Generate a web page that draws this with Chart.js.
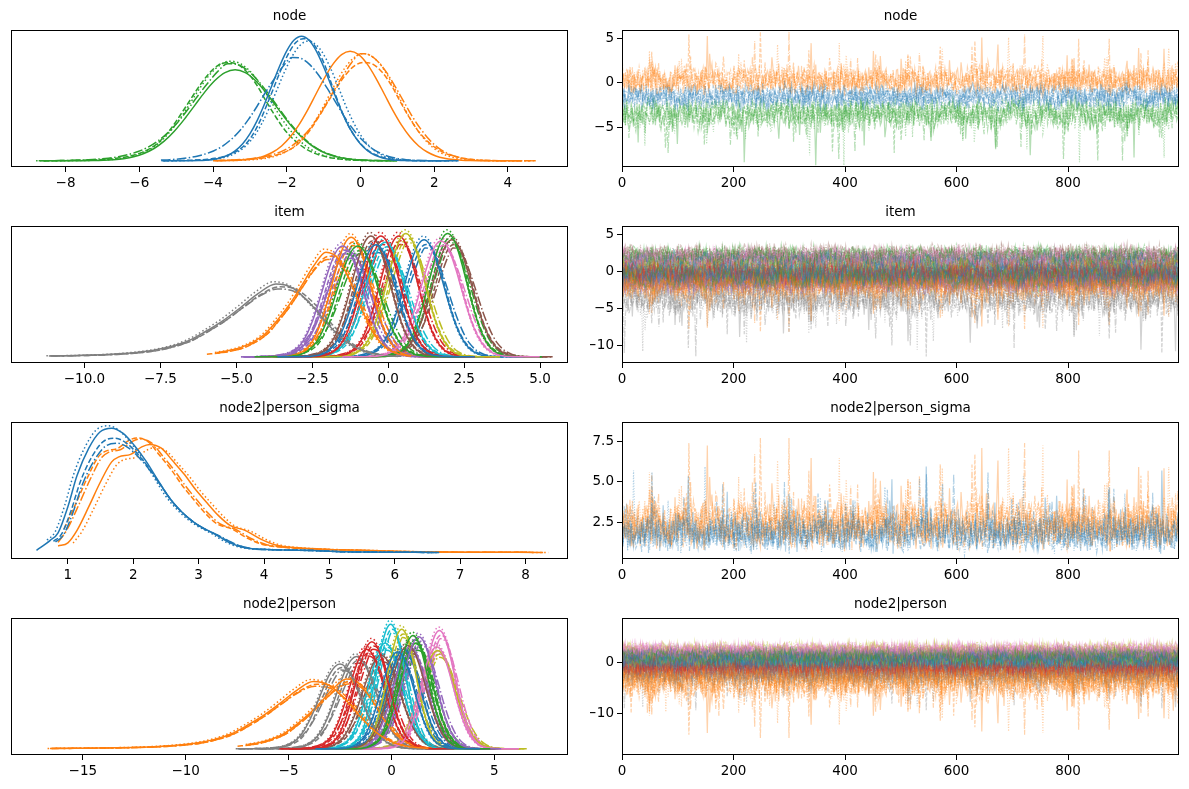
<!DOCTYPE html>
<html>
<head>
<meta charset="utf-8">
<script src="https://cdn.jsdelivr.net/npm/chart.js@4.4.1/dist/chart.umd.min.js"></script>
<style>
  html, body { margin: 0; padding: 0; background: #fff; }
  #fig { position: relative; width: 1189px; height: 789px; overflow: hidden; }
  canvas { position: absolute; }
</style>
</head>
<body>
<div id="fig">
  <canvas id="kdeNode" width="590" height="196" style="left:0;top:0"></canvas>
  <canvas id="trNode" width="599" height="196" style="left:590px;top:0"></canvas>
  <canvas id="kdeItem" width="590" height="196" style="left:0;top:196px"></canvas>
  <canvas id="trItem" width="599" height="196" style="left:590px;top:196px"></canvas>
  <canvas id="kdeSigma" width="590" height="196" style="left:0;top:392px"></canvas>
  <canvas id="trSigma" width="599" height="196" style="left:590px;top:392px"></canvas>
  <canvas id="kdePerson" width="590" height="196" style="left:0;top:588px"></canvas>
  <canvas id="trPerson" width="599" height="196" style="left:590px;top:588px"></canvas>
</div>
<script>
// ---- panel titles
const titles = ['node', 'item', 'node2|person_sigma', 'node2|person'];

// ---- density shapes (peak = 1)
// one per chain, every 0.25 sd from -5 to +5
const bellProfiles = [
  [0,0,0,0,.001,.001,.002,.005,.011,.023,.044,.08,.135,.216,.325,.458,.607,.755,.882,.969,1,.969,.882,.755,.607,.458,.325,.216,.135,.08,.044,.023,.011,.005,.002,.001,.001,0,0,0,0],
  [0,0,.001,.002,.003,.005,.008,.012,.02,.032,.05,.08,.125,.2,.31,.45,.6,.75,.88,.97,1,.98,.9,.77,.6,.44,.3,.2,.125,.075,.045,.025,.013,.006,.003,.001,0,0,0,0,0],
  [0,0,0,.001,.002,.003,.005,.009,.015,.027,.047,.08,.13,.205,.31,.44,.59,.74,.87,.96,1,.98,.91,.79,.64,.48,.34,.225,.14,.082,.045,.024,.012,.006,.003,.001,.001,0,0,0,0],
  [0,.001,.001,.002,.004,.007,.011,.017,.027,.042,.064,.095,.14,.205,.29,.4,.53,.67,.8,.92,1,.99,.93,.83,.7,.56,.42,.3,.2,.125,.075,.042,.022,.011,.005,.002,.001,0,0,0,0]
];
// long left tail, every 0.5 sd from -8.5 to +3.5
const skewProfiles = [
  [.004,.005,.007,.009,.012,.015,.02,.028,.04,.06,.09,.14,.22,.35,.5,.68,.87,1,.94,.72,.44,.21,.08,.025,.005],
  [.003,.004,.006,.008,.011,.014,.019,.026,.038,.057,.088,.145,.23,.37,.53,.72,.9,1,.96,.76,.47,.22,.085,.025,.006]
];
const chainShift = [0, 0.1, -0.07, 0.05];
const chainPeak = [1, 0.96, 1.03, 0.93];

// node: blue, orange, green; per chain centre / width / height
const nodeMu = [[-1.6, -1.55, -1.45, -1.85], [-0.28, 0.1, 0.05, 0.0], [-3.4, -3.6, -3.55, -3.6]];
const nodeSd = [[0.8, 0.8, 0.82, 0.95], [0.93, 0.98, 0.93, 0.93], [1.1, 1.05, 1.05, 1.08]];
const nodePeak = [[1.0, 0.98, 0.96, 0.83], [0.88, 0.79, 0.86, 0.86], [0.73, 0.79, 0.8, 0.78]];
const nodeLo = [-5.5, -4.0, -8.8];
const nodeHi = [2.8, 4.95, 1.1];

// item: 16 parameters
const itemMu = [-0.4, -2.05, -1.0, -0.24, -1.5, -0.57, 1.74, -3.7, 0.58, -0.1, 1.18, -1.22, 1.96, 0.35, -1.3, 2.1];
const itemSd = [0.65, 0.8, 0.68, 0.62, 0.66, 0.63, 0.65, 1.15, 0.62, 0.65, 0.65, 0.63, 0.62, 0.62, 0.7, 0.65];
const itemPeak = [0.9, 0.84, 0.89, 0.97, 0.89, 0.97, 0.93, 0.585, 0.99, 0.92, 0.94, 0.96, 0.99, 0.97, 0.85, 0.94];
const itemSkew = [1, 7];
const itemLo = [null, -6.0, null, null, null, null, null, -11.6, null, null, null, null, null, null, null, null];
const itemSpread = [0.75, 0.9, 0.78, 0.72, 0.76, 0.73, 0.75, 1.15, 0.72, 0.75, 0.75, 0.73, 0.72, 0.72, 0.8, 0.75];

// node2|person_sigma: blue and orange density outlines
const sigmaBlueX = [0.52,0.73,0.85,1.0,1.14,1.32,1.49,1.67,1.84,2.02,2.19,2.37,2.54,2.72,2.89,3.0,3.25,3.48,3.71,4.06,4.65,5.23,5.8,6.6];
const sigmaBlueY = [0.02,0.1,0.16,0.37,0.62,0.84,0.97,1.0,0.96,0.86,0.74,0.59,0.45,0.34,0.26,0.22,0.15,0.08,0.04,0.027,0.02,0.008,0.005,0.003];
const sigmaOrangeX = [0.85,1.0,1.14,1.32,1.49,1.67,1.78,1.96,2.13,2.25,2.43,2.6,2.78,2.95,3.13,3.3,3.48,3.71,3.95,4.18,4.53,5.0,5.53,6.1,7.0,8.27];
const sigmaOrangeY = [0.055,0.08,0.18,0.37,0.56,0.73,0.77,0.79,0.85,0.87,0.84,0.74,0.63,0.51,0.4,0.3,0.22,0.18,0.11,0.063,0.04,0.027,0.02,0.011,0.005,0.003];
const sigmaShift = [[0, 0.05, -0.05, 0.08], [0, -0.2, 0.08, -0.15]];
const sigmaScale = [[1, 0.92, 1.02, 0.88], [1, 1.06, 0.97, 1.05]];
const sigmaStart = [[0.52, 0.7, 0.6, 0.75], [0.85, 0.9, 0.95, 0.82]];

// node2|person: 20 parameters
const personMu = [0.3, -3.8, 1.05, -0.95, 1.33, 0.8, 2.33, -2.5, 0.5, -0.04, 0.6, -2.2, 1.2, -1.2, 0.9, -0.5, 2.2, -1.7, 2.24, -0.3];
const personSd = [0.8, 1.6, 0.75, 0.8, 0.8, 0.85, 0.75, 1.0, 0.7, 0.7, 0.8, 1.2, 0.8, 0.85, 0.8, 0.9, 0.8, 0.95, 0.85, 0.8];
const personPeak = [0.78, 0.54, 0.91, 0.86, 0.9, 0.83, 0.95, 0.68, 0.96, 1.0, 0.8, 0.56, 0.85, 0.8, 0.82, 0.75, 0.82, 0.74, 0.79, 0.85];
const personSkew = [1, 11];
const personLo = [null, -16.9, null, null, null, null, null, null, null, null, null, -7.5, null, null, null, null, null, null, null, null];

// ---- chain draws (standardised, x10)
const drawBank = [
  [4,-3,7,12,5,-6,-13,-4,3,10,16,8,-2,-9,-15,-7,1,9,14,6,-3,-11,-5,2,13,19,9,-4,-12,-18,-8,0,7,11,3,-6,-14,-2,8,15,10,1,-7,-16,-21,-9,2,12,17,7,-1,-10,-5,4,11,20,13,3,-8,-13,-6,5,9,-2,-12,-19,-10,0,8,15,6,-4,-11,-3,7,14,22,11,-1,-9,-17,-7,4,10,2,-8,-15,-5,6,13,18,8,-3,-12,-20,-11,1,9,16,5,-6,-2,7,12,-4,-14,-8,3,11,17,9,-1,-10,-16,-6,4,14,19,7,-5,-13,-3,8,12,2],
  [-6,2,11,5,-4,-12,-19,-8,3,14,9,-1,-10,-5,6,15,21,10,-2,-11,-7,4,12,7,-3,-14,-22,-10,1,9,17,11,2,-8,-16,-6,5,13,6,-5,-13,-3,8,18,12,0,-9,-15,-4,7,10,1,-11,-18,-7,6,16,9,-2,-8,3,13,20,8,-4,-14,-9,2,11,4,-6,-17,-12,-1,10,15,5,-7,-3,9,18,11,-1,-10,-20,-9,3,12,7,-5,-13,-2,6,14,22,10,-3,-12,-6,5,11,2,-9,-16,-5,8,17,7,-4,-11,0,9,13,3,-8,-15,-10,1,12,6,-2],
  [10,3,-5,-12,-4,6,13,18,7,-3,-11,-17,-9,2,8,1,-7,-14,-6,5,12,20,11,0,-9,-4,7,15,9,-2,-13,-21,-10,3,11,6,-4,-10,1,12,17,8,-5,-15,-8,4,9,-1,-12,-6,5,16,23,12,-1,-8,-16,-7,2,10,5,-6,-13,-3,8,14,6,-4,-11,-19,-9,3,13,19,9,-2,-10,-5,6,11,0,-8,-15,-7,4,15,10,1,-9,-18,-12,-2,7,16,8,-3,-11,-4,5,12,19,9,-1,-7,-14,-6,3,10,4,-5,-12,-20,-8,2,11,6,-3,-9,1,13,8],
  [-2,-9,-15,-6,5,12,8,-1,-7,3,11,18,9,-4,-13,-8,2,10,15,6,-5,-16,-11,-1,9,4,-6,-12,0,10,19,13,3,-7,-14,-4,7,13,5,-3,-10,-18,-9,1,8,16,22,11,-2,-11,-6,4,12,3,-8,-15,-5,6,14,7,-2,-12,-20,-10,2,9,17,10,0,-9,-3,8,13,4,-7,-17,-8,3,11,18,7,-4,-10,-2,6,15,9,-1,-11,-19,-9,2,10,5,-5,-13,-4,7,16,11,1,-8,-14,-6,4,12,20,10,-3,-10,-16,-7,3,9,2,-6,-12,-1,8,14,5,-3,-9],
  [7,15,9,-1,-10,-17,-7,4,11,5,-6,-13,-2,8,16,10,0,-8,-15,-9,2,13,20,9,-3,-12,-5,6,12,3,-7,-16,-10,1,9,18,11,-2,-11,-4,7,14,6,-5,-14,-21,-11,0,8,15,7,-3,-9,2,12,19,12,1,-8,-15,-6,5,10,-1,-12,-18,-8,3,11,16,8,-4,-10,-3,9,17,10,-1,-9,-16,-7,4,13,6,-4,-11,-20,-9,2,10,17,9,-2,-12,-6,5,14,21,11,-1,-10,-5,6,12,2,-8,-14,-4,7,13,5,-6,-15,-9,3,11,18,8,-3,-11,-2,6,10],
  [-8,-14,-5,6,13,7,-2,-10,-4,8,17,11,0,-9,-18,-12,-1,9,15,6,-5,-11,-3,10,21,12,2,-7,-13,-6,5,11,3,-6,-15,-22,-10,1,12,19,9,-3,-9,0,11,16,6,-5,-14,-8,4,13,8,-2,-12,-17,-7,5,14,20,10,-1,-8,-3,7,12,1,-9,-16,-6,6,15,9,-3,-11,-19,-9,2,10,4,-6,-13,-2,9,18,13,3,-7,-14,-5,6,11,-1,-10,-18,-8,4,12,16,7,-4,-12,-6,5,14,22,12,0,-9,-15,-4,8,13,3,-7,-13,-3,10,17,7,-2],
  [5,-4,-11,-3,9,16,10,1,-8,-16,-9,3,12,6,-5,-12,-20,-8,2,11,18,9,-2,-10,-4,7,14,5,-6,-14,-7,4,13,21,11,-1,-9,-15,-5,6,10,0,-11,-18,-9,3,12,17,8,-3,-12,-6,5,15,9,-2,-9,-17,-8,4,11,3,-7,-13,-2,9,19,12,1,-8,-4,7,14,6,-5,-15,-21,-10,2,9,15,7,-3,-11,-5,6,13,20,10,-1,-10,-16,-6,5,12,4,-6,-14,-8,3,11,18,9,-3,-12,-19,-9,2,10,16,8,-2,-9,-3,7,13,4,-7,-15,-6,6,12],
  [-12,-4,7,14,8,-1,-9,-17,-7,4,12,19,10,-2,-11,-5,6,13,4,-6,-14,-8,3,11,17,8,-3,-13,-20,-9,2,10,5,-5,-10,1,12,20,11,0,-8,-15,-6,5,13,7,-4,-12,-3,8,16,9,-1,-10,-18,-10,1,9,14,5,-6,-13,-4,7,15,22,12,1,-9,-16,-7,4,11,3,-7,-14,-5,8,17,10,-1,-11,-19,-8,3,12,6,-4,-10,0,11,18,9,-2,-12,-6,5,13,7,-5,-15,-21,-11,0,9,16,8,-3,-9,2,12,17,6,-5,-13,-7,4,11,19,9,-2,-10,-16,-6],
  [6,-2,-9,3,11,15,7,-4,-13,-28,-10,2,9,14,5,-5,-12,-3,8,16,10,-1,-18,-42,-15,0,8,13,4,-7,-14,-6,5,12,18,9,-3,-11,-24,-9,3,10,6,-4,-15,-33,-12,1,9,15,7,-2,-8,2,11,17,8,-5,-16,-55,-20,-4,6,13,5,-6,-13,-3,9,14,4,-8,-22,-11,1,10,16,8,-1,-9,-30,-13,0,7,12,3,-6,-14,-7,4,11,18,9,-2,-17,-38,-14,-1,8,14,6,-3,-11,-5,7,13,19,8,-4,-12,-26,-9,2,10,15,5,-7,-20,-64,-18,-2,6,12],
  [-3,8,14,6,-5,-16,-31,-11,1,9,17,10,-2,-10,-4,7,13,3,-9,-21,-45,-16,-2,8,15,9,-1,-12,-6,5,12,18,7,-4,-14,-27,-10,2,11,6,-5,-13,-3,9,16,8,-3,-19,-37,-13,0,9,14,4,-8,-15,-5,6,13,19,10,-1,-11,-23,-8,3,12,7,-4,-12,-52,-22,-6,5,11,16,8,-2,-9,-3,8,15,6,-6,-17,-34,-12,1,10,13,4,-7,-14,-4,7,14,20,9,-3,-13,-28,-10,2,9,5,-6,-16,-60,-24,-5,6,12,17,7,-4,-11,-2,9,14,4,-8,-18,-30,-9,3,11],
  [9,2,-7,-15,-36,-12,1,10,16,7,-3,-11,-4,8,14,5,-6,-18,-47,-17,-3,7,13,18,8,-2,-10,-22,-8,3,11,6,-5,-14,-5,6,15,9,-1,-12,-29,-11,2,10,17,8,-4,-13,-58,-21,-5,6,12,4,-7,-16,-6,5,13,19,10,0,-9,-26,-10,3,11,6,-5,-15,-40,-14,-1,8,15,7,-3,-12,-4,9,16,9,-2,-11,-24,-9,2,12,18,8,-4,-14,-33,-12,0,9,13,5,-6,-17,-68,-25,-6,4,11,16,7,-2,-10,-3,8,14,6,-5,-15,-31,-11,2,10,15,5,-4],
  [-5,-14,-30,-10,3,12,7,-2,-9,4,13,19,9,-3,-12,-25,-8,2,10,15,6,-4,-15,-50,-18,-3,7,14,8,-1,-10,-4,6,13,17,7,-5,-16,-35,-13,0,9,5,-6,-13,-2,9,16,10,-1,-11,-27,-9,3,11,18,8,-3,-14,-44,-16,-2,8,12,4,-7,-15,-6,7,14,20,9,-2,-12,-21,-7,4,12,6,-5,-16,-62,-23,-5,6,13,8,-1,-9,-3,10,17,8,-4,-13,-32,-11,1,9,15,6,-5,-14,-4,7,13,18,7,-3,-11,-24,-8,3,11,5,-7,-18,-41,-15,-1,8,14,9]
];
const nodeLevel = [-1.6, 0.3, -3.5];
const nodeSpread = [0.7, 0.8, 0.85];
const nodeSign = [1, -1, 1];
const sigmaLevel = [1.85, 2.4];
const sigmaSpread = [0.6, 0.78];

// ---- axis limits and tick labels
const kdeNodeX = [-9.48, 5.63], kdeNodeTicks = [-8, -6, -4, -2, 0, 2, 4];
const kdeItemX = [-12.42, 5.92], kdeItemTicks = [-10, -7.5, -5, -2.5, 0, 2.5, 5];
const kdeSigmaX = [0.13, 8.65], kdeSigmaTicks = [1, 2, 3, 4, 5, 6, 7, 8];
const kdePersonX = [-18.49, 8.58], kdePersonTicks = [-15, -10, -5, 0, 5];
const kdeY = [-0.05, 1.05];
const drawX = [0, 999], drawTicks = [0, 200, 400, 600, 800];
const trNodeY = [-9.49, 5.94], trNodeTicks = [-5, 0, 5];
const trItemY = [-12.41, 6.14], trItemTicks = [-10, -5, 0, 5];
const trSigmaY = [0.21, 8.69], trSigmaTicks = [2.5, 5, 7.5];
const trPersonY = [-17.99, 8.64], trPersonTicks = [-10, 0];

// ---- styling
const tab10 = ['#1f77b4', '#ff7f0e', '#2ca02c', '#d62728', '#9467bd', '#8c564b', '#e377c2', '#7f7f7f', '#bcbd22', '#17becf'];
const kdeDash = [[], [5.5, 2.4], [1.5, 2.5], [9.6, 2.4, 1.5, 2.4]];
const traceDash = [[], [3.7, 1.6], [1, 1.65], [6.4, 1.6, 1, 1.6]];
const fontPx = 13.5;

Chart.defaults.font.family = "'DejaVu Sans', sans-serif";
Chart.defaults.font.size = fontPx;
Chart.defaults.color = '#000';

function rgba(hex, a) {
  const n = parseInt(hex.slice(1), 16);
  return 'rgba(' + (n >> 16) + ',' + ((n >> 8) & 255) + ',' + (n & 255) + ',' + a + ')';
}

function kdeCurve(prof, t0, dt, mu, sd, peak, lo, hi) {
  const pts = [];
  prof.forEach((v, i) => {
    const x = mu + sd * (t0 + i * dt);
    if ((lo == null || x >= lo) && (hi == null || x <= hi)) pts.push({ x: x, y: peak * v });
  });
  return pts;
}

function kdeSet(color, chain, pts) {
  return {
    data: pts, borderColor: color, borderWidth: 1.5, borderDash: kdeDash[chain],
    pointRadius: 0, fill: false, cubicInterpolationMode: 'monotone'
  };
}

function familySets(mu, sd, peak, skew, lo) {
  const sets = [];
  for (let c = 0; c < 4; c++) {
    for (let p = 0; p < mu.length; p++) {
      const isSkew = skew.includes(p);
      const prof = isSkew ? skewProfiles[c % 2] : bellProfiles[c];
      sets.push(kdeSet(tab10[p % 10], c, kdeCurve(prof, isSkew ? -8.5 : -5, isSkew ? 0.5 : 0.25,
        mu[p] + sd[p] * chainShift[c], sd[p], peak[p] * chainPeak[c], lo[p], null)));
    }
  }
  return sets;
}

// each chain takes its draws in turn from four rows of the bank
function traceSets(level, spread, skew, sign) {
  const sets = [];
  for (let c = 0; c < 4; c++) {
    for (let p = 0; p < level.length; p++) {
      const ks = skew.includes(p)
        ? [8 + (p + c) % 4, (p + c) % 8, 8 + (p + c + 2) % 4, (p + c + 3) % 8]
        : [0, 1, 2, 3].map(j => (p * 3 + c + j * 2) % 8);
      const n = Math.min(...ks.map(k => drawBank[k].length));
      const offs = ks.map((k, j) => (p * 29 + c * 41 + j * 17) % n);
      const s = sign ? sign[p] : 1;
      const total = n * 4;
      const pts = [];
      for (let i = 0; i < total; i++) {
        const j = i % 4;
        const v = drawBank[ks[j]][(Math.floor(i / 4) + offs[j]) % n];
        pts.push({ x: i * 999 / (total - 1), y: level[p] + s * spread[p] * v / 10 });
      }
      sets.push({
        data: pts, borderColor: rgba(tab10[p % 10], 0.35), borderWidth: 1.2,
        borderDash: traceDash[c], pointRadius: 0, fill: false
      });
    }
  }
  return sets;
}

const frame = {
  id: 'frame',
  afterDraw(chart) {
    const a = chart.chartArea, ctx = chart.ctx;
    ctx.save();
    ctx.strokeStyle = '#000';
    ctx.lineWidth = 1;
    ctx.strokeRect(a.left + 0.5, a.top + 0.5, a.right - a.left - 1, a.bottom - a.top - 1);
    ctx.restore();
  }
};

function axis(r, ticks, dec, dir) {
  return {
    type: 'linear', min: r[0], max: r[1],
    afterFit: s => { if (dir === 'x') s.height = 29; else s.width = 32; },
    afterBuildTicks: s => { s.ticks = ticks.map(v => ({ value: v })); },
    ticks: {
      autoSkip: false, maxRotation: 0, padding: 3,
      color: '#000', font: { size: fontPx },
      callback: v => Number(v).toFixed(dec).replace('-', '\u2212')
    },
    grid: { drawOnChartArea: false, drawTicks: true, tickLength: 5, color: '#000', lineWidth: 1 },
    border: { display: false }
  };
}

function panel(id, title, datasets, x, y, left) {
  new Chart(document.getElementById(id), {
    type: 'line',
    data: { datasets: datasets },
    options: {
      responsive: false, animation: false, events: [], devicePixelRatio: 1,
      parsing: false, normalized: true,
      layout: { padding: left ? { left: 11, right: 22, top: 0, bottom: 0 } : { left: 0, right: 10, top: 0, bottom: 0 } },
      plugins: {
        legend: { display: false },
        tooltip: { enabled: false },
        title: {
          display: true, text: title, fullSize: false, color: '#000',
          font: { size: fontPx, weight: 'normal', lineHeight: 1.2 },
          padding: { top: 8.8, bottom: 5 }
        }
      },
      scales: {
        x: axis(x.r, x.ticks, x.dec, 'x'),
        y: left ? { type: 'linear', display: false, min: y.r[0], max: y.r[1] } : axis(y.r, y.ticks, y.dec, 'y')
      }
    },
    plugins: [frame]
  });
}

const trX = { r: drawX, ticks: drawTicks, dec: 0 };
const kY = { r: kdeY };

// ---- node
const nodeKde = [];
for (let p = 0; p < 3; p++) {
  for (let c = 0; c < 4; c++) {
    nodeKde.push(kdeSet(tab10[p], c, kdeCurve(bellProfiles[c], -5, 0.25, nodeMu[p][c], nodeSd[p][c], nodePeak[p][c], nodeLo[p], nodeHi[p])));
  }
}
panel('kdeNode', titles[0], nodeKde, { r: kdeNodeX, ticks: kdeNodeTicks, dec: 0 }, kY, true);
panel('trNode', titles[0], traceSets(nodeLevel, nodeSpread, [1, 2], nodeSign), trX, { r: trNodeY, ticks: trNodeTicks, dec: 0 }, false);

// ---- item
panel('kdeItem', titles[1], familySets(itemMu, itemSd, itemPeak, itemSkew, itemLo), { r: kdeItemX, ticks: kdeItemTicks, dec: 1 }, kY, true);
panel('trItem', titles[1], traceSets(itemMu, itemSpread, itemSkew, null), trX, { r: trItemY, ticks: trItemTicks, dec: 0 }, false);

// ---- node2|person_sigma
const sigmaKde = [];
[[sigmaBlueX, sigmaBlueY], [sigmaOrangeX, sigmaOrangeY]].forEach((xy, p) => {
  for (let c = 0; c < 4; c++) {
    const pts = xy[0].map((x, i) => ({ x: x + sigmaShift[p][c], y: xy[1][i] * sigmaScale[p][c] }))
      .filter(pt => pt.x >= sigmaStart[p][c]);
    sigmaKde.push(kdeSet(tab10[p], c, pts));
  }
});
panel('kdeSigma', titles[2], sigmaKde, { r: kdeSigmaX, ticks: kdeSigmaTicks, dec: 0 }, kY, true);
panel('trSigma', titles[2], traceSets(sigmaLevel, sigmaSpread, [0, 1], [-1, -1]), trX, { r: trSigmaY, ticks: trSigmaTicks, dec: 1 }, false);

// ---- node2|person
panel('kdePerson', titles[3], familySets(personMu, personSd, personPeak, personSkew, personLo), { r: kdePersonX, ticks: kdePersonTicks, dec: 0 }, kY, true);
panel('trPerson', titles[3], traceSets(personMu, personSd, [1, 7, 11], null), trX, { r: trPersonY, ticks: trPersonTicks, dec: 0 }, false);
</script>
</body>
</html>
